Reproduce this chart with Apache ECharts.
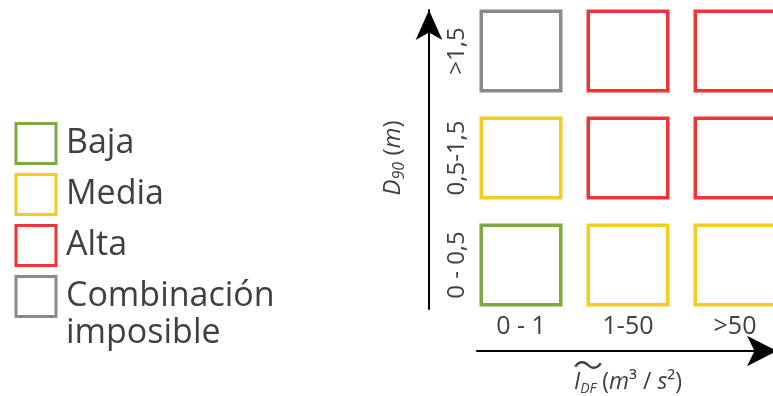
<!DOCTYPE html>
<html>
<head>
<meta charset="utf-8">
<script src="https://cdn.jsdelivr.net/npm/echarts@6/dist/echarts.min.js"></script>
<style>html,body{margin:0;padding:0;background:#fff}#c{width:773px;height:396px}</style>
</head>
<body>
<div id="c"></div>
<script>
const xCategories = ['0 - 1', '1-50', '>50'];
const yCategories = ['0 - 0,5', '0,5-1,5', '>1,5'];
const levels = ['Baja', 'Media', 'Alta', 'Combinación imposible'];
const levelColors = ['#80a840', '#f2cd1f', '#ee3436', '#8a8a8a'];
// [xIndex, yIndex, level]
const cells = [
  [0, 0, 'Baja'], [1, 0, 'Media'], [2, 0, 'Media'],
  [0, 1, 'Media'], [1, 1, 'Alta'], [2, 1, 'Alta'],
  [0, 2, 'Combinación imposible'], [1, 2, 'Alta'], [2, 2, 'Alta']
];

const FONT = 'Open Sans';
const TXT = '#404040';

const chart = echarts.init(document.getElementById('c'));

const series = levels.map(function (lv, i) {
  return {
    type: 'custom',
    name: lv,
    coordinateSystem: 'cartesian2d',
    xAxisIndex: 0,
    yAxisIndex: 0,
    itemStyle: { color: levelColors[i] },
    data: cells.filter(c => c[2] === lv).map(c => [c[0], c[1]]),
    renderItem: function (params, api) {
      const p = api.coord([api.value(0), api.value(1)]);
      const s = api.size([1, 1]);
      const w = s[0] * 0.743, h = s[1] * 0.743;
      return {
        type: 'rect',
        shape: { x: p[0] - w / 2, y: p[1] - h / 2, width: w, height: h },
        style: { fill: 'none', stroke: levelColors[i], lineWidth: 3.5 }
      };
    }
  };
});

const hiddenValue = { type: 'value', show: false, min: 0, max: 1 };

function legendItem(i) {
  return {
    name: levels[i],
    icon: 'rect',
    itemStyle: { color: '#ffffff', borderColor: levelColors[i], borderWidth: 3 }
  };
}

chart.setOption({
  animation: false,
  textStyle: { fontFamily: FONT },
  legend: [
    {
      orient: 'vertical',
      left: 14.5,
      top: 122,
      padding: 0,
      itemWidth: 40,
      itemHeight: 40,
      itemGap: 8,
      selectedMode: false,
      textStyle: { fontFamily: FONT, fontSize: 34, color: TXT, lineHeight: 40, padding: [0, 0, 0, 5] },
      data: [0, 1, 2].map(legendItem)
    },
    {
      orient: 'vertical',
      left: 14.5,
      top: 241,
      padding: 0,
      itemWidth: 40,
      itemHeight: 40,
      selectedMode: false,
      textStyle: { fontFamily: FONT, fontSize: 34, color: TXT, lineHeight: 37, padding: [0, 0, 0, 5] },
      formatter: function (name) { return '\n' + name.replace(' ', '\n'); },
      data: [3].map(legendItem)
    }
  ],
  grid: [
    { left: 467.5, width: 321, top: -2.5, height: 321, outerBoundsMode: 'none' },
    { left: 429, width: 10, top: 10, bottom: 87, outerBoundsMode: 'none' },
    { left: 477, width: 300, top: 100, bottom: 45, outerBoundsMode: 'none' }
  ],
  xAxis: [
    {
      type: 'category', gridIndex: 0, data: xCategories,
      axisLine: { show: false }, axisTick: { show: false }, splitLine: { show: false },
      axisLabel: { fontFamily: FONT, fontSize: 25, color: TXT, margin: -4 },
      name: '{t|〜}\n{i|I}{sub|DF} ({i|m}³ / {i|s}²)',
      nameLocation: 'middle',
      nameGap: 42,
      nameTextStyle: {
        fontFamily: FONT, fontSize: 23, color: TXT, lineHeight: 28,
        rich: {
          t: { fontFamily: 'Noto Sans CJK SC', fontSize: 30, color: TXT, lineHeight: 8, padding: [0, 80, 0, 0] },
          i: { fontFamily: FONT, fontStyle: 'italic', fontSize: 23, color: TXT, lineHeight: 28 },
          sub: { fontFamily: FONT, fontStyle: 'italic', fontSize: 14, color: TXT, lineHeight: 28, verticalAlign: 'bottom' }
        }
      }
    },
    Object.assign({ gridIndex: 1 }, hiddenValue),
    {
      type: 'value', gridIndex: 2, min: 0, max: 1,
      axisLine: { show: true, onZero: false, symbol: ['none', 'arrow'], symbolSize: [23, 30], lineStyle: { color: '#000', width: 2 } },
      axisTick: { show: false }, axisLabel: { show: false }, splitLine: { show: false }
    }
  ],
  yAxis: [
    {
      type: 'category', gridIndex: 0, data: yCategories,
      axisLine: { show: false }, axisTick: { show: false }, splitLine: { show: false },
      axisLabel: { fontFamily: FONT, fontSize: 24, color: TXT, rotate: 90, margin: -2 },
      name: '{i|D}{sub|90} ({i|m})',
      nameLocation: 'middle',
      nameRotate: 90,
      nameGap: 60,
      nameTextStyle: {
        fontFamily: FONT, fontSize: 24, color: TXT, lineHeight: 28,
        rich: {
          i: { fontFamily: FONT, fontStyle: 'italic', fontSize: 24, color: TXT, lineHeight: 28 },
          sub: { fontFamily: FONT, fontStyle: 'italic', fontSize: 16, color: TXT, lineHeight: 28, verticalAlign: 'bottom' }
        }
      }
    },
    {
      type: 'value', gridIndex: 1, min: 0, max: 1,
      axisLine: { show: true, onZero: false, symbol: ['none', 'arrow'], symbolSize: [20, 30], lineStyle: { color: '#000', width: 2 } },
      axisTick: { show: false }, axisLabel: { show: false }, splitLine: { show: false }
    },
    Object.assign({ gridIndex: 2 }, hiddenValue)
  ],
  series: series
});
</script>
</body>
</html>
